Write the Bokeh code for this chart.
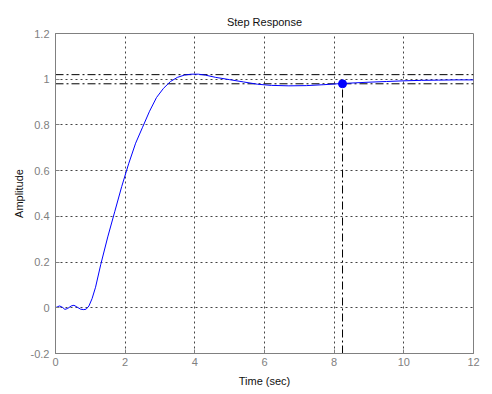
from bokeh.plotting import figure
from bokeh.models import Range1d, FixedTicker
from bokeh.embed import file_html
from bokeh.resources import INLINE

# Step response
t = [0, 0.06, 0.12, 0.2, 0.27, 0.35, 0.45, 0.53, 0.62, 0.72, 0.81, 0.88, 0.96,
     1.05, 1.15, 1.3, 1.5, 1.7, 1.9, 2.1, 2.3, 2.5, 2.7, 2.9, 3.1, 3.3, 3.5, 3.7,
     3.9, 4.1, 4.3, 4.6, 5.0, 5.4, 5.8, 6.2, 6.7, 7.2, 7.7, 8.2, 8.6, 9.0, 9.5,
     10.0, 10.5, 11.0, 11.5, 12.0]
amp = [0, 0.005, 0.008, 0.002, -0.007, -0.003, 0.008, 0.011, 0.003, -0.006, -0.008,
       -0.006, 0.008, 0.04, 0.09, 0.19, 0.31, 0.42, 0.53, 0.63, 0.72, 0.79, 0.86,
       0.92, 0.96, 0.99, 1.008, 1.018, 1.022, 1.022, 1.018, 1.008, 0.998, 0.988,
       0.978, 0.973, 0.971, 0.972, 0.976, 0.981, 0.984, 0.987, 0.990, 0.993, 0.995,
       0.996, 0.997, 0.997]

settle_t = [8.24]
settle_y = [0.98]
band_hi = 1.02
band_lo = 0.98
x_ticks = [0, 2, 4, 6, 8, 10, 12]
y_ticks = [-0.2, 0, 0.2, 0.4, 0.6, 0.8, 1, 1.2]
y_tick_labels = ["-0.2", "0", "0.2", "0.4", "0.6", "0.8", "1", "1.2"]

FONT = "Liberation Sans"
GRAY = "#808080"

p = figure(width=492, height=394, output_backend="svg", toolbar_location=None,
           x_range=Range1d(0, 12), y_range=Range1d(-0.2, 1.2),
           title="Step Response",
           min_border_left=55, min_border_right=19, min_border_top=33,
           min_border_bottom=41)
p.background_fill_color = "white"
p.border_fill_color = "white"
p.outline_line_color = GRAY
p.outline_line_width = 1

p.title.align = "center"
p.title.text_font = FONT
p.title.text_font_size = "11px"
p.title.text_font_style = "normal"
p.title.text_color = "#111111"
p.title.standoff = 12

for ax in (p.xaxis[0], p.yaxis[0]):
    ax.axis_line_color = GRAY
    ax.major_tick_line_color = GRAY
    ax.major_tick_in = 4
    ax.major_tick_out = 0
    ax.minor_tick_line_color = None
    ax.major_label_text_font = FONT
    ax.major_label_text_font_size = "11px"
    ax.major_label_text_color = GRAY
    ax.axis_label_text_font = FONT
    ax.axis_label_text_font_size = "11px"
    ax.axis_label_text_font_style = "normal"
    ax.axis_label_text_color = "#111111"

p.xaxis.ticker = FixedTicker(ticks=x_ticks)
p.yaxis.ticker = FixedTicker(ticks=y_ticks)
p.yaxis.major_label_overrides = {v: s for v, s in zip(y_ticks, y_tick_labels)}
p.xaxis.axis_label = "Time (sec)"
p.yaxis.axis_label = "Amplitude"
p.xaxis.major_label_standoff = 4
p.yaxis.major_label_standoff = 6
p.xaxis.axis_label_standoff = 6
p.yaxis.axis_label_standoff = 3

for g in (p.xgrid[0], p.ygrid[0]):
    g.grid_line_color = "#444444"
    g.grid_line_dash = "2 3"
    g.grid_line_width = 1

# settling band
p.line([0, 12], [band_hi, band_hi], line_color="black", line_dash="8 3 2 3", line_width=1)
p.line([0, 12], [band_lo, band_lo], line_color="black", line_dash="8 3 2 3", line_width=1)
# settling time marker line
p.line([settle_t[0], settle_t[0]], [-0.2, settle_y[0]], line_color="black",
       line_dash="8 3 2 3", line_width=1)

p.line(t, amp, line_color="#0000ff", line_width=1)
p.scatter(settle_t, settle_y, size=8, fill_color="#0000ff", line_color="#0000ff")

open("out.html", "w").write(file_html(p, INLINE))
